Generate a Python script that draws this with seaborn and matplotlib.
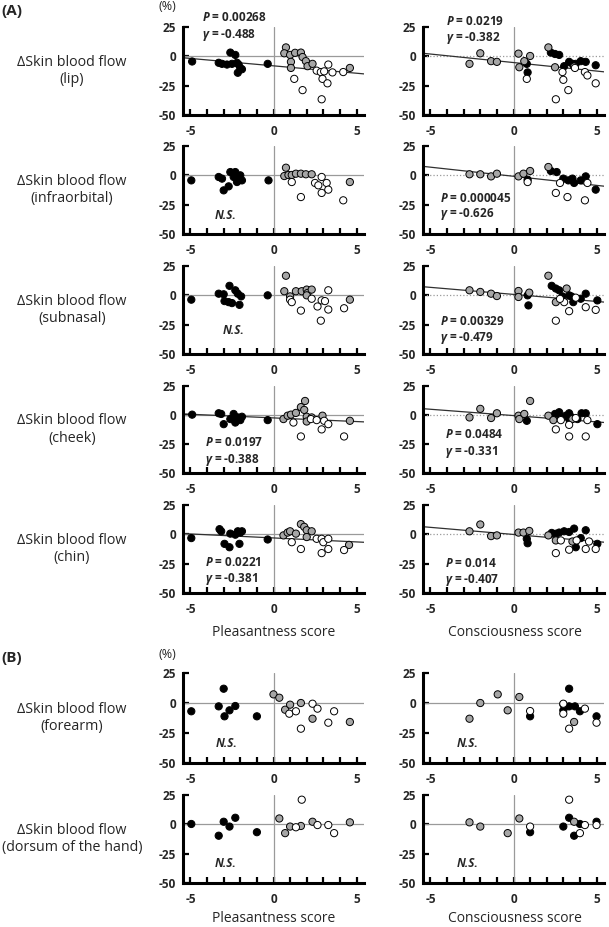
import matplotlib
matplotlib.use('Agg')
import matplotlib.pyplot as plt
import seaborn as sns
import pandas as pd

# --- datos (x = puntaje, y = cambio de flujo %) ---
# p = pleasantness, c = consciousness; blk / gry / wht = color del punto

lip_p_blk = [(-4.9, -4.4), (-3.3, -5.5), (-3.1, -6.4), (-2.8, -7.0), (-2.6, 3.2), (-2.5, -6.4), (-2.3, 1.2),
             (-2.2, -5.5), (-2.1, -7.0), (-2.0, -10.0), (-2.15, -14.0), (-1.9, -11.0), (-0.35, -6.4)]
lip_p_gry = [(0.75, 7.6), (0.65, 2.6), (1.0, 1.2), (1.3, 3.0), (1.05, -4.7), (1.05, -9.9), (1.65, 3.2),
             (1.75, -0.6), (1.95, -4.1), (2.05, -8.4), (2.35, -6.4), (4.6, -9.9)]
lip_p_wht = [(1.25, -19.2), (1.75, -28.8), (2.6, -12.2), (2.85, -13.4), (3.05, -12.8), (3.3, -7.0),
             (3.55, -13.7), (2.95, -19.2), (3.25, -23.0), (2.9, -36.6), (4.2, -13.4)]
lip_c_blk = [(0.8, -6.4), (0.85, -13.7), (2.25, 3.2), (2.5, 2.0), (2.75, 1.2), (3.05, -8.4), (3.35, -4.7),
             (3.55, -6.4), (3.75, -6.4), (4.05, -4.1), (4.35, -4.7), (4.95, -7.6)]
lip_c_gry = [(-2.65, -6.4), (-2.0, 2.6), (-1.35, -4.1), (-1.0, -4.7), (0.3, 2.3), (0.35, -9.3), (0.65, -4.1),
             (1.0, 0.3), (2.1, 7.6), (2.5, -9.3), (3.65, -8.7)]
lip_c_wht = [(0.8, -19.2), (2.55, -36.6), (2.95, -13.4), (3.0, -20.0), (3.3, -28.8), (3.7, -9.9),
             (4.3, -13.4), (4.45, -16.3), (4.95, -23.0)]

inf_p_blk = [(-4.95, -4.3), (-3.3, -1.4), (-3.1, -2.8), (-3.0, -12.8), (-2.7, -9.4), (-2.6, 2.8), (-2.4, -1.4),
             (-2.3, 2.8), (-2.2, -5.7), (-2.1, -4.3), (-1.9, -4.3), (-2.0, 0.0), (-0.3, -4.3)]
inf_p_gry = [(0.75, 6.5), (0.65, -0.6), (0.9, 0.3), (1.1, 0.3), (1.35, 1.4), (1.65, 1.4), (1.95, 0.9),
             (2.3, 0.9), (4.6, -5.7)]
inf_p_wht = [(1.1, -5.7), (1.65, -18.5), (2.5, -6.5), (2.7, -8.5), (2.9, -1.4), (3.2, -6.5), (3.3, -12.2),
             (2.9, -15.0), (4.2, -21.3)]
inf_c_blk = [(0.85, -3.7), (2.25, 3.7), (2.6, 2.8), (3.0, -2.8), (3.3, -4.3), (3.55, -2.8), (3.65, -6.5),
             (4.05, -4.3), (4.35, -0.9), (4.95, -12.2)]
inf_c_gry = [(-2.65, 0.9), (-2.0, 0.9), (-1.35, -0.9), (-1.0, 1.4), (0.3, -0.9), (0.6, 1.4), (1.0, 3.7),
             (2.1, 7.1)]
inf_c_wht = [(0.85, -5.7), (2.55, -15.0), (2.8, -6.5), (3.25, -18.5), (4.3, -21.3), (4.45, -6.5)]

sub_p_blk = [(-4.95, -3.7), (-3.3, 1.4), (-3.0, 0.9), (-2.95, -4.9), (-2.65, 8.1), (-2.7, -5.8), (-2.5, -6.6),
             (-2.3, 4.3), (-2.15, 1.4), (-2.05, -8.1), (-1.95, -0.9), (-0.35, 0.0)]
sub_p_gry = [(0.75, 16.7), (0.65, 3.5), (1.0, -0.9), (1.35, 3.5), (1.7, 3.5), (2.0, 4.9), (2.05, 2.0),
             (2.0, 0.0), (2.3, 4.9), (4.6, -3.7)]
sub_p_wht = [(1.0, -3.7), (1.1, -5.8), (1.65, -13.0), (2.3, -2.9), (2.65, -9.5), (2.9, -4.3), (3.1, -4.9),
             (2.85, -21.6), (3.3, 4.3), (3.3, -12.1), (4.25, -11.0)]
sub_c_blk = [(0.85, 0.0), (0.9, -8.6), (2.3, 8.1), (2.55, 5.8), (2.75, 4.3), (2.95, -0.9), (3.35, 0.0),
             (3.5, -1.0), (3.6, -5.8), (4.05, -2.9), (4.35, 1.4), (5.05, -4.3)]
sub_c_gry = [(-2.65, 4.3), (-2.0, 2.9), (-1.35, 1.4), (-1.0, -0.6), (0.3, 3.7), (0.3, -1.4), (0.95, 2.3),
             (2.1, 16.7), (2.55, -5.8), (3.2, 5.8)]
sub_c_wht = [(2.55, -21.6), (3.05, -5.8), (3.35, -13.5), (3.75, -2.0), (4.35, -10.1), (4.95, -12.4), (2.8, -3.0)]

chk_p_blk = [(-4.9, 0.3), (-3.3, 1.5), (-3.15, 0.9), (-3.0, -7.9), (-2.6, -3.5), (-2.4, 0.9), (-2.3, -3.5),
             (-2.15, -2.1), (-2.0, -4.4), (-1.9, -1.5), (-2.3, -6.5), (-0.35, -4.4)]
chk_p_gry = [(0.6, -3.5), (0.85, -0.6), (1.05, 0.3), (1.35, 1.8), (1.65, 6.8), (1.85, 4.4), (1.9, 12.1),
             (2.0, -1.5), (2.0, -5.6), (2.3, -2.1), (2.95, -0.6), (4.6, -5.0)]
chk_p_wht = [(1.2, -6.5), (1.65, -18.5), (2.25, -3.5), (2.6, -4.4), (2.9, -12.4), (3.05, -5.0), (3.3, -7.9),
             (4.25, -18.5)]
chk_c_blk = [(0.8, -5.0), (2.5, 0.9), (2.75, 2.4), (2.85, -2.1), (3.15, -0.6), (3.35, 1.5), (3.45, -1.5),
             (3.85, -3.5), (4.1, 1.5), (4.35, 1.5), (5.05, -7.9), (3.35, -3.5)]
chk_c_gry = [(-2.65, -2.1), (-2.0, 5.3), (-1.35, -2.6), (-1.0, 1.5), (0.3, -0.6), (0.35, -3.5), (0.65, 0.9),
             (1.0, 12.1), (2.1, -0.6), (2.4, -4.4), (3.55, -3.5)]
chk_c_wht = [(2.55, -12.4), (2.85, -4.4), (3.35, -8.5), (3.35, -18.5), (3.75, -2.6), (4.35, -18.5), (4.45, -4.4)]

chn_p_blk = [(-4.95, -3.2), (-3.25, 4.4), (-3.15, 2.6), (-2.95, -8.1), (-2.65, -11.0), (-2.6, 0.6), (-2.3, -0.3),
             (-2.15, 2.6), (-2.05, -8.1), (-2.0, 1.5), (-1.9, 2.6), (-0.35, -4.4)]
chn_p_gry = [(0.6, -0.9), (0.85, 1.5), (1.0, 2.6), (1.35, 0.6), (1.65, 8.7), (1.85, 6.4), (2.0, 3.5),
             (2.0, -2.3), (2.3, 2.6), (4.55, -9.0)]
chn_p_wht = [(1.1, -6.7), (1.65, -12.5), (2.6, -3.8), (2.9, -3.8), (3.0, -6.7), (2.9, -16.0), (3.3, -3.8),
             (3.3, -12.5), (4.25, -13.4)]
chn_c_blk = [(0.8, -3.8), (0.85, -7.6), (2.3, 1.2), (2.55, 0.5), (2.75, 1.5), (3.05, 2.6), (3.35, 2.0),
             (3.65, 4.9), (3.75, -11.0), (4.05, -3.2), (4.35, 3.5), (5.05, -8.1)]
chn_c_gry = [(-2.65, 2.6), (-2.0, 8.4), (-1.35, -1.5), (-1.0, -0.9), (0.3, 1.5), (0.6, 1.5), (0.95, 2.9),
             (2.1, -0.9), (2.55, -5.2), (3.55, -6.1)]
chn_c_wht = [(2.55, -16.0), (2.85, -5.2), (3.35, -13.1), (3.8, -5.2), (4.35, -12.5), (4.55, -6.1), (4.95, -12.5)]

arm_p_blk = [(-4.95, -6.9), (-3.3, -2.8), (-3.0, 11.9), (-2.95, -11.1), (-2.65, -6.1), (-2.3, -2.5), (-1.0, -11.1)]
arm_p_gry = [(0.0, 7.2), (0.35, 4.4), (0.7, -5.6), (1.0, -1.4), (1.65, 0.0), (2.35, -13.1), (4.6, -15.8)]
arm_p_wht = [(0.95, -8.9), (1.35, -6.9), (1.65, -21.4), (2.35, -0.6), (2.65, -4.7), (3.3, -16.4), (3.65, -6.9)]
arm_c_blk = [(1.0, -11.1), (3.0, -6.1), (3.35, 11.9), (3.35, -2.8), (3.7, -2.8), (4.0, -6.9), (5.0, -11.1)]
arm_c_gry = [(-2.65, -13.1), (-2.0, 0.0), (-0.95, 7.2), (-0.35, -6.1), (0.35, 5.0), (3.0, -1.1), (3.65, -15.8)]
arm_c_wht = [(1.0, -6.7), (3.0, -8.9), (3.35, -21.4), (4.3, -4.7), (5.0, -16.4), (3.0, -0.6)]

hnd_p_blk = [(-4.95, 0.3), (-3.3, -9.7), (-3.0, 2.2), (-2.65, -1.9), (-2.3, 5.6), (-1.0, -6.7)]
hnd_p_gry = [(0.35, 5.0), (0.7, -7.5), (1.0, -1.9), (1.65, -1.4), (2.35, 2.2), (4.6, 1.7)]
hnd_p_wht = [(1.35, -2.5), (1.7, 21.0), (2.65, -0.6), (3.3, -0.6), (3.65, -7.5)]
hnd_c_blk = [(1.0, -6.7), (3.0, -1.9), (3.35, 5.6), (3.65, -9.7), (4.0, 0.3), (5.0, 2.2)]
hnd_c_gry = [(-2.65, 1.7), (-2.0, -1.9), (-0.35, -7.5), (0.35, 5.0), (3.65, 2.2)]
hnd_c_wht = [(1.0, -1.9), (3.35, 21.0), (4.0, -7.5), (4.3, -0.6), (5.0, -0.6)]

sitios = ['lip', 'infraorbital', 'subnasal', 'cheek', 'chin', 'forearm', 'dorsum of the hand']
claves = ['lip', 'inf', 'sub', 'chk', 'chn', 'arm', 'hnd']

# rectas de regresion (intercepto, pendiente)
rectas = {
    ('lip', 'p'): (-8.1, -1.26), ('lip', 'c'): (-5.3, -1.45),
    ('inf', 'c'): (-0.8, -1.55),
    ('sub', 'c'): (0.8, -1.2),
    ('chk', 'p'): (-2.5, -0.63), ('chk', 'c'): (-0.5, -1.09),
    ('chn', 'p'): (-3.07, -0.68), ('chn', 'c'): (-0.1, -1.21),
}
# estadisticos: (P, r)
estad = {
    ('lip', 'p'): ('0.00268', '-0.488'), ('lip', 'c'): ('0.0219', '-0.382'),
    ('inf', 'c'): ('0.000045', '-0.626'),
    ('sub', 'c'): ('0.00329', '-0.479'),
    ('chk', 'p'): ('0.0197', '-0.388'), ('chk', 'c'): ('0.0484', '-0.331'),
    ('chn', 'p'): ('0.0221', '-0.381'), ('chn', 'c'): ('0.014', '-0.407'),
}
# posicion del texto (x, y de P, y de r)
pos_estad = {
    ('lip', 'p'): (-4.3, 33.5, 18.5), ('lip', 'c'): (-4.05, 30, 15.5),
    ('inf', 'c'): (-4.45, -19.6, -33),
    ('sub', 'c'): (-4.45, -22, -36),
    ('chk', 'p'): (-4.1, -24, -38.5), ('chk', 'c'): (-4.15, -17, -31.5),
    ('chn', 'p'): (-4.1, -24, -38), ('chn', 'c'): (-4.15, -25, -39),
}
pos_ns = {
    ('inf', 'p'): (-2.9, -34), ('sub', 'p'): (-2.4, -30),
    ('arm', 'p'): (-2.85, -34), ('arm', 'c'): (-2.75, -34),
    ('hnd', 'p'): (-2.9, -33), ('hnd', 'c'): (-2.75, -33),
}

# --- tabla larga para seaborn ---
filas = []
for k in claves:
    for s in ['p', 'c']:
        for g in ['blk', 'gry', 'wht']:
            for x, y in globals()[f'{k}_{s}_{g}']:
                filas.append({'sitio': k, 'score': s, 'grupo': g, 'x': x, 'y': y})
df = pd.DataFrame(filas)

paleta = {'blk': '#000000', 'gry': '#a6a6a6', 'wht': '#ffffff'}

sns.set_theme(style='ticks')
plt.rcParams['font.family'] = ['Open Sans', 'DejaVu Sans']
plt.rcParams['axes.unicode_minus'] = False
plt.rcParams['mathtext.fontset'] = 'custom'
plt.rcParams['mathtext.it'] = 'Open Sans:italic:bold'
plt.rcParams['mathtext.rm'] = 'Open Sans:bold'

W, H = 609, 927
filas_px = [(27, 115), (146, 234), (266, 354), (386, 473), (505, 593), (673, 763), (795, 883)]
cols_px = [183, 423]
ancho_px = 181

fig = plt.figure(figsize=(W / 100, H / 100), dpi=100)

for i, k in enumerate(claves):
    top, bot = filas_px[i]
    for j, s in enumerate(['p', 'c']):
        ax = fig.add_axes([cols_px[j] / W, 1 - bot / H, ancho_px / W, (bot - top) / H])
        sub = df[(df['sitio'] == k) & (df['score'] == s)]
        estilo0 = ':' if (s == 'c' and i < 5) else '-'
        ax.axhline(0, color='#9a9a9a', lw=0.9, ls=estilo0, zorder=1)
        ax.axvline(0, color='#9a9a9a', lw=0.9, zorder=1)
        if (k, s) in rectas:
            b, m = rectas[(k, s)]
            ax.axline((0, b), slope=m, color='#303030', lw=0.9, zorder=2)
        sns.scatterplot(data=sub, x='x', y='y', hue='grupo', palette=paleta,
                        hue_order=['gry', 'wht', 'blk'], s=27, edgecolor='black',
                        linewidth=0.7, legend=False, ax=ax, zorder=3, clip_on=False)
        ax.set_xlim(-5.45, 5.45)
        ax.set_ylim(-50, 25)
        ax.set_xticks(range(-5, 6))
        ax.set_xticklabels(['-5' if t == -5 else '0' if t == 0 else '5' if t == 5 else '' for t in range(-5, 6)])
        ax.set_yticks([-50, -25, 0, 25])
        ax.set_yticklabels(['-50', '-25', '0', '25'])
        ax.set_xlabel('')
        ax.set_ylabel('')
        sns.despine(ax=ax)
        for sp in ['left', 'bottom']:
            ax.spines[sp].set_linewidth(2.2)
            ax.spines[sp].set_color('black')
        ax.tick_params(direction='in', length=4, width=1.6, color='black', labelsize=8.5)
        ax.tick_params(axis='x', pad=7)
        ax.tick_params(axis='y', pad=5)
        for lab in ax.get_xticklabels() + ax.get_yticklabels():
            lab.set_fontweight('bold')

        if (k, s) in estad:
            p, r = estad[(k, s)]
            x0, yp, yr = pos_estad[(k, s)]
            ax.text(x0, yp, f'$P$ = {p}', fontsize=8.5, fontweight='bold', va='center', ha='left', clip_on=False)
            ax.text(x0, yr, f'$\\gamma$ = {r}', fontsize=8.5, fontweight='bold', va='center', ha='left', clip_on=False)
        if (k, s) in pos_ns:
            xn, yn = pos_ns[(k, s)]
            ax.text(xn, yn, 'N.S.', fontsize=8.5, fontweight='bold', fontstyle='italic', ha='center', va='center')

    fig.text(72 / W, 1 - (top + bot) / 2 / H, 'ΔSkin blood flow\n(' + sitios[i] + ')',
             ha='center', va='center', fontsize=10.3, linespacing=1.2, multialignment='center')

for yl in [632, 918]:
    fig.text((183 + 90.5) / W, 1 - yl / H, 'Pleasantness score', ha='center', va='center', fontsize=10)
    fig.text((423 + 92) / W, 1 - yl / H, 'Consciousness score', ha='center', va='center', fontsize=10)

fig.text(0.002, 1 - 11 / H, '(A)', fontsize=11, fontweight='bold', ha='left', va='center')
fig.text(0.002, 1 - 658 / H, '(B)', fontsize=11, fontweight='bold', ha='left', va='center')
fig.text(167 / W, 1 - 7 / H, '(%)', fontsize=9, ha='center', va='center')
fig.text(167 / W, 1 - 655 / H, '(%)', fontsize=9, ha='center', va='center')

fig.savefig('out.png', dpi=100)
